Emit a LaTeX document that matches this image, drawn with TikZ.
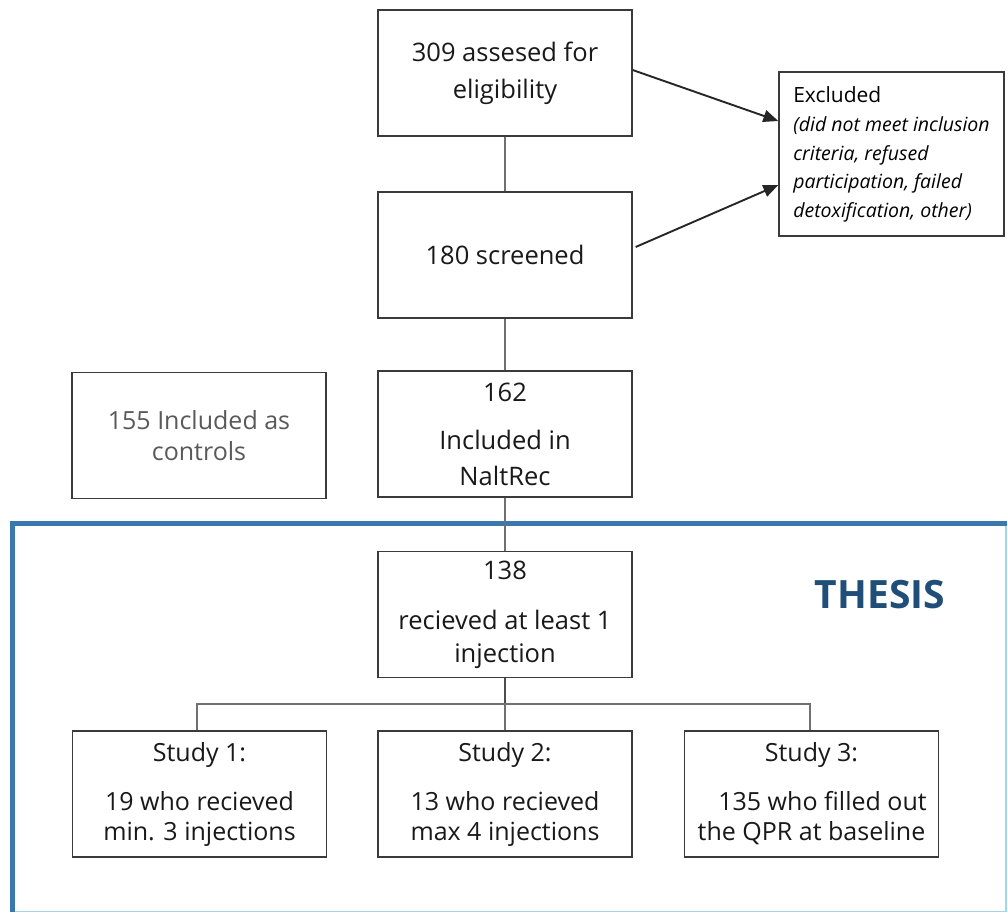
\documentclass[tikz,border=0pt]{standalone}
\usepackage{fontspec}
\setmainfont{Open Sans}
\usetikzlibrary{arrows.meta}
\definecolor{boxline}{HTML}{3A3A3A}
\definecolor{linkline}{HTML}{6E7074}
\definecolor{thesisblue}{HTML}{3A78B0}
\definecolor{thesisedge}{HTML}{A8D4EA}
\definecolor{thesistext}{HTML}{1F4E79}
\definecolor{mutedtext}{HTML}{595959}
\tikzset{
  flowbox/.style={draw=boxline, line width=1.3pt, fill=white,
    minimum width=254pt, minimum height=126pt, inner sep=0pt,
    align=center, text=black!90},
  link/.style={draw=linkline, line width=1.4pt},
  excl/.style={-{Triangle[length=15pt,width=12pt]}, draw=black!85, line width=1.9pt},
}
\begin{document}
\begin{tikzpicture}[x=1pt,y=-1pt]
\useasboundingbox (0,0) rectangle (1008,913);

% thesis frame
\draw[thesisedge, line width=1.2pt] (1006,523.5) -- (1006,911.5) -- (12.5,911.5);
\draw[thesisblue, line width=5pt] (12.5,912) -- (12.5,523.5) -- (1006.5,523.5);
\node[text=thesistext, font=\fontsize{39}{44}\selectfont\bfseries] (thesis) at (880,595) {THESIS};

% flow boxes
\node[flowbox, font=\fontsize{25.5}{37}\selectfont] (assess) at (505,73)
  {309 assesed for\\eligibility};
\node[flowbox, font=\fontsize{25.5}{37}\selectfont] (screen) at (505,255)
  {180 screened};
\node[flowbox, font=\fontsize{25.5}{36}\selectfont] (incl) at (505,434)
  {162\\[12pt]Included in\\NaltRec};
\node[flowbox, font=\fontsize{25}{31}\selectfont, text=mutedtext] (ctrl) at (199,435.5)
  {155 Included as\\controls};
\node[flowbox, font=\fontsize{25.5}{33}\selectfont] (inj) at (505,614.5)
  {138\\[17pt]recieved at least 1\\injection};
\node[flowbox, font=\fontsize{25}{30}\selectfont] (s1) at (199.5,794)
  {Study 1:\\[19pt]19 who recieved\\min. 3 injections};
\node[flowbox, font=\fontsize{25}{30}\selectfont] (s2) at (505,794)
  {Study 2:\\[19pt]13 who recieved\\max 4 injections};
\node[flowbox, font=\fontsize{25}{30}\selectfont] (s3) at (811.5,794)
  {Study 3:\\[19pt]\hspace*{22pt}135 who filled out\\the QPR at baseline};

% exclusion box
\node[draw=boxline, line width=1.3pt, fill=white, minimum width=225pt,
  minimum height=164pt, inner sep=0pt, align=left,
  font=\fontsize{19.5}{28.5}\selectfont] (excl) at (891.5,154)
  {{\fontsize{21}{28}\selectfont Excluded}\\[1pt]
   \textit{(did not meet inclusion}\\
   \textit{criteria, refused}\\
   \textit{participation, failed}\\
   \textit{detoxification, other)}};

% connectors
\draw[link] (assess) -- (screen);
\draw[link] (screen) -- (incl);
\draw[link] (incl) -- (inj);
\coordinate (split) at (505,704);
\draw[link, draw=black!70] (inj.south) -- (split);
\draw[link] (split) -- (s2.north);
\draw[link] (s1.north -| 197,0) |- (split) -| (s3.north -| 810,0);

% exclusion arrows
\draw[excl] ([yshift=3pt]assess.east) -- ([yshift=33pt]excl.west);
\draw[excl] ([xshift=3pt,yshift=8pt]screen.east) -- ([yshift=-31pt]excl.west);
\end{tikzpicture}
\end{document}
